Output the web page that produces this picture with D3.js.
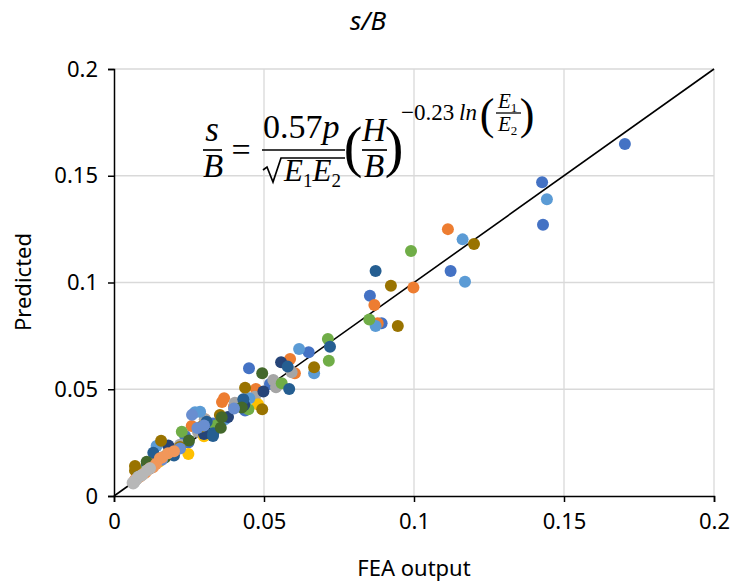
<!DOCTYPE html>
<html>
<head>
<meta charset="utf-8">
<script src="https://cdn.jsdelivr.net/npm/d3@7"></script>
<style>
  body { margin: 0; background: #fff; }
  svg { display: block; }
</style>
</head>
<body>
<script>
// FEA output (x) vs predicted (y), one pair of arrays per series
const s1x = [0.1703, 0.1427, 0.143, 0.1122, 0.0853, 0.0892, 0.0649, 0.045, 0.0437, 0.0237, 0.0248, 0.0175, 0.012, 0.009, 0.033, 0.052];
const s1y = [0.1649, 0.147, 0.127, 0.1054, 0.0938, 0.0809, 0.0673, 0.0598, 0.04, 0.0281, 0.025, 0.019, 0.013, 0.010, 0.034, 0.0525];
const s2x = [0.1113, 0.0998, 0.0868, 0.0879, 0.0587, 0.0603, 0.0473, 0.0367, 0.0303, 0.0259, 0.040, 0.020, 0.014, 0.011, 0.036];
const s2y = [0.125, 0.0977, 0.0895, 0.0809, 0.0642, 0.0575, 0.0501, 0.0458, 0.0359, 0.0328, 0.042, 0.022, 0.016, 0.012, 0.044];
const s3x = [0.0592, 0.0531, 0.054, 0.047, 0.0403, 0.0303, 0.028, 0.022, 0.016, 0.012, 0.008, 0.007];
const s3y = [0.058, 0.0543, 0.0509, 0.0465, 0.0437, 0.0359, 0.030, 0.024, 0.018, 0.014, 0.009, 0.0075];
const s4x = [0.0248, 0.048, 0.030, 0.015, 0.008];
const s4y = [0.0197, 0.043, 0.028, 0.016, 0.010];
const s5x = [0.1443, 0.1162, 0.117, 0.0872, 0.0617, 0.0667, 0.0451, 0.027, 0.0287, 0.0142, 0.037, 0.020, 0.010];
const s5y = [0.139, 0.1202, 0.1004, 0.0796, 0.0689, 0.0575, 0.0458, 0.0392, 0.0395, 0.0234, 0.036, 0.021, 0.011];
const s6x = [0.099, 0.0851, 0.0713, 0.0716, 0.0559, 0.0448, 0.0226, 0.034, 0.018, 0.010];
const s6y = [0.1147, 0.0827, 0.0735, 0.0634, 0.0528, 0.0406, 0.0301, 0.033, 0.020, 0.012];
const s7x = [0.0557, 0.0498, 0.0434, 0.0181, 0.030, 0.012, 0.038];
const s7y = [0.0626, 0.0489, 0.0426, 0.0236, 0.029, 0.013, 0.037];
const s8x = [0.120, 0.0923, 0.0946, 0.0667, 0.0437, 0.0494, 0.0353, 0.0292, 0.0157, 0.007, 0.007, 0.022];
const s8y = [0.118, 0.0985, 0.0796, 0.0603, 0.0507, 0.0406, 0.0379, 0.0325, 0.0259, 0.0141, 0.012, 0.023];
const s9x = [0.0872, 0.072, 0.0579, 0.0584, 0.0431, 0.0309, 0.0331, 0.0131, 0.011, 0.020, 0.033];
const s9y = [0.1054, 0.0699, 0.0606, 0.0501, 0.0453, 0.0348, 0.0294, 0.0203, 0.015, 0.019, 0.0281];
const s10x = [0.0494, 0.0426, 0.0359, 0.0356, 0.0109, 0.025, 0.017, 0.008];
const s10y = [0.0575, 0.0414, 0.0369, 0.032, 0.0161, 0.026, 0.018, 0.009];
const s11x = [0.0278, 0.022, 0.026, 0.040, 0.016, 0.030];
const s11y = [0.0318, 0.0223, 0.038, 0.041, 0.017, 0.033];
const s12x = [0.0153, 0.014, 0.013, 0.012, 0.011, 0.0105, 0.010, 0.009, 0.0085, 0.008, 0.0075, 0.007, 0.016, 0.018, 0.020];
const s12y = [0.0177, 0.015, 0.0135, 0.013, 0.012, 0.011, 0.0105, 0.0095, 0.009, 0.0085, 0.008, 0.0075, 0.018, 0.020, 0.021];
const s13x = [0.0064, 0.0081, 0.007, 0.0075, 0.009, 0.0068, 0.011, 0.012, 0.0062, 0.0095];
const s13y = [0.0059, 0.009, 0.007, 0.0078, 0.0095, 0.0065, 0.012, 0.013, 0.0062, 0.010];

const seriesX = [s1x, s2x, s3x, s4x, s5x, s6x, s7x, s8x, s9x, s10x, s11x, s12x, s13x];
const seriesY = [s1y, s2y, s3y, s4y, s5y, s6y, s7y, s8y, s9y, s10y, s11y, s12y, s13y];
const ticks = [0, 0.05, 0.1, 0.15, 0.2];
const tickLabels = ["0", "0.05", "0.1", "0.15", "0.2"];

// Excel-like palette, in series order
const colors = ["#4472C4", "#ED7D31", "#A5A5A5", "#FFC000", "#5B9BD5", "#70AD47",
  "#264478", "#997300", "#255E91", "#43682B", "#698ED0", "#F1975A", "#B7B7B7"];

const W = 732, H = 585;
const svg = d3.select("body").append("svg").attr("width", W).attr("height", H);

const x = d3.scaleLinear().domain([0, 0.2]).range([114, 714]);
const y = d3.scaleLinear().domain([0, 0.2]).range([496, 69]);

const uiFont = "'Noto Sans', 'Open Sans', sans-serif";
const mathFont = "'Liberation Serif', 'DejaVu Serif', serif";

// gridlines
svg.append("g").selectAll("line.gx").data(ticks.slice(1)).enter().append("line")
  .attr("x1", d => x(d)).attr("x2", d => x(d)).attr("y1", y(0)).attr("y2", y(0.2))
  .attr("stroke", "#D9D9D9").attr("stroke-width", 1.3);
svg.append("g").selectAll("line.gy").data(ticks.slice(1)).enter().append("line")
  .attr("y1", d => y(d)).attr("y2", d => y(d)).attr("x1", x(0)).attr("x2", x(0.2))
  .attr("stroke", "#D9D9D9").attr("stroke-width", 1.3);

// axes
const xAxis = svg.append("g").attr("transform", `translate(0,${y(0)})`)
  .call(d3.axisBottom(x).tickValues(ticks).tickFormat((d, i) => tickLabels[i]).tickSize(6).tickPadding(11));
const yAxis = svg.append("g").attr("transform", `translate(${x(0)},0)`)
  .call(d3.axisLeft(y).tickValues(ticks).tickFormat((d, i) => tickLabels[i]).tickSize(6).tickPadding(10));
[xAxis, yAxis].forEach(a => {
  a.select(".domain").attr("stroke", "#000").attr("stroke-width", 1.5);
  a.selectAll(".tick line").attr("stroke", "#000").attr("stroke-width", 1.5);
  a.selectAll(".tick text").attr("font-family", uiFont).attr("font-size", 22).attr("fill", "#000");
});

// y = x reference line
svg.append("line")
  .attr("x1", x(0)).attr("y1", y(0)).attr("x2", x(0.2)).attr("y2", y(0.2))
  .attr("stroke", "#000").attr("stroke-width", 1.6);

// points
seriesX.forEach((xs, si) => {
  const pts = xs.map((v, i) => [v, seriesY[si][i]]);
  svg.append("g").selectAll("circle").data(pts).enter().append("circle")
    .attr("cx", d => x(d[0])).attr("cy", d => y(d[1])).attr("r", 6)
    .attr("fill", colors[si]);
});

// titles
svg.append("text").attr("x", 368).attr("y", 30).attr("text-anchor", "middle")
  .attr("font-family", uiFont).attr("font-style", "italic").attr("font-size", 26).text("s/B");
svg.append("text").attr("x", 414).attr("y", 576).attr("text-anchor", "middle")
  .attr("font-family", uiFont).attr("font-size", 22).text("FEA output");
svg.append("text").attr("transform", "translate(31,282) rotate(-90)").attr("text-anchor", "middle")
  .attr("font-family", uiFont).attr("font-size", 22).text("Predicted");

// formula
const f = svg.append("g").attr("font-family", mathFont).attr("fill", "#000");
function txt(px, py, s, size, italic, anchor) {
  return f.append("text").attr("x", px).attr("y", py).attr("font-size", size)
    .attr("font-style", italic ? "italic" : "normal").attr("text-anchor", anchor || "middle").text(s);
}
function bar(x1, x2, py, w) {
  f.append("line").attr("x1", x1).attr("x2", x2).attr("y1", py).attr("y2", py)
    .attr("stroke", "#000").attr("stroke-width", w || 1.7);
}
txt(212, 141, "s", 35, true);
bar(203, 222, 150);
txt(213, 177, "B", 33, true);
txt(241, 161, "=", 34, false);
const num = f.append("text").attr("x", 263).attr("y", 138).attr("font-size", 34);
num.append("tspan").text("0.57");
num.append("tspan").attr("font-style", "italic").text("p");
bar(262, 345, 150);
// square root sign
f.append("path").attr("d", "M263,170 L267,167 L273,182 L281,158 L345,158")
  .attr("fill", "none").attr("stroke", "#000").attr("stroke-width", 1.7);
const sq = f.append("text").attr("x", 284).attr("y", 181).attr("font-size", 31).attr("font-style", "italic");
sq.append("tspan").text("E");
sq.append("tspan").attr("font-size", 19).attr("font-style", "normal").attr("dy", 6).text("1");
sq.append("tspan").attr("dy", -6).text("E");
sq.append("tspan").attr("font-size", 19).attr("font-style", "normal").attr("dy", 6).text("2");
txt(353, 166, "(", 56, false);
txt(374, 141, "H", 33, true);
bar(362, 387, 150);
txt(374, 177, "B", 33, true);
txt(394, 166, ")", 56, false);
txt(401, 120, "\u22120.23", 23, false, "start");
txt(459, 120, "ln", 23, true, "start");
txt(487, 129, "(", 44, false);
const e1 = f.append("text").attr("x", 498).attr("y", 108).attr("font-size", 21).attr("font-style", "italic");
e1.append("tspan").text("E");
e1.append("tspan").attr("font-size", 13).attr("font-style", "normal").attr("dy", 4).text("1");
bar(496, 521, 113, 1.3);
const e2 = f.append("text").attr("x", 498).attr("y", 131).attr("font-size", 21).attr("font-style", "italic");
e2.append("tspan").text("E");
e2.append("tspan").attr("font-size", 13).attr("font-style", "normal").attr("dy", 4).text("2");
txt(527, 129, ")", 44, false);
</script>
</body>
</html>
